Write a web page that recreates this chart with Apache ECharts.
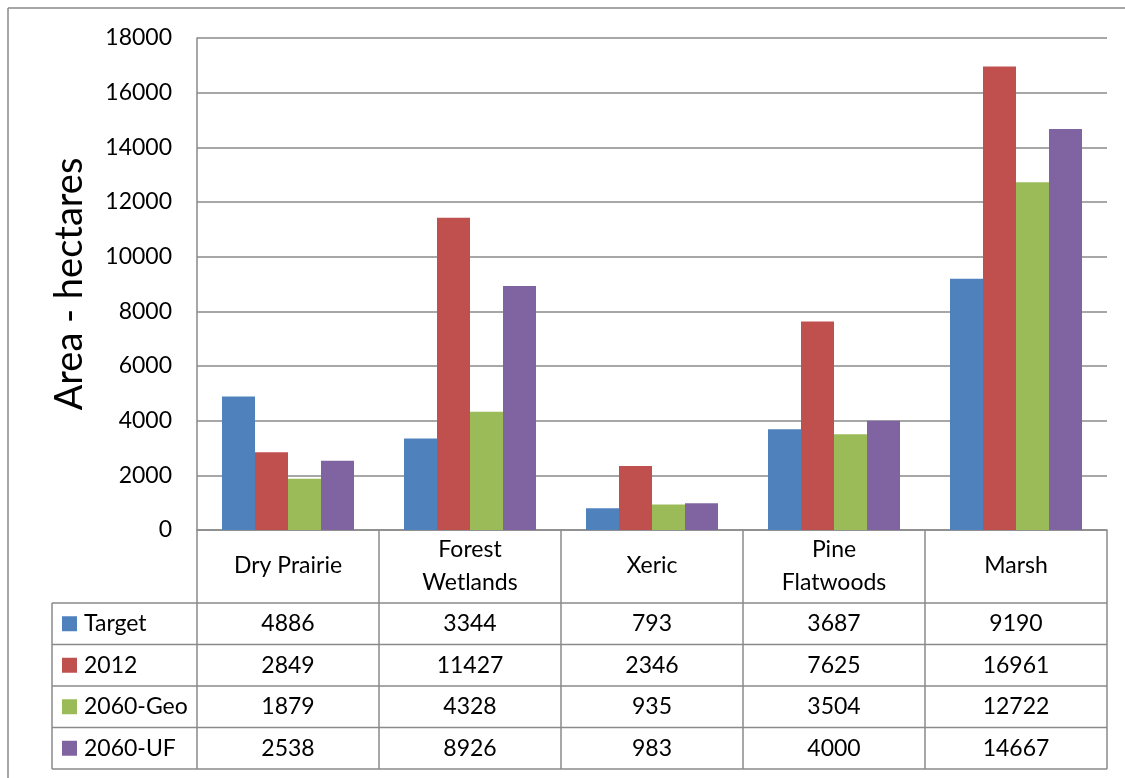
<!DOCTYPE html>
<html>
<head>
<meta charset="utf-8">
<script src="https://cdn.jsdelivr.net/npm/echarts@6/dist/echarts.min.js"></script>
<style>
  html, body { margin: 0; padding: 0; background: #ffffff; }
  #chart { width: 1125px; height: 778px; }
</style>
</head>
<body>
<div id="chart"></div>
<script>
// Land-cover classes and areas (hectares)
const categories = ['Dry Prairie', 'Forest\nWetlands', 'Xeric', 'Pine\nFlatwoods', 'Marsh'];
const seriesNames = ['Target', '2012', '2060-Geo', '2060-UF'];
const target = [4886, 3344, 793, 3687, 9190];
const y2012 = [2849, 11427, 2346, 7625, 16961];
const geo2060 = [1879, 4328, 935, 3504, 12722];
const uf2060 = [2538, 8926, 983, 4000, 14667];
const seriesValues = [target, y2012, geo2060, uf2060];
const colors = ['#4F81BD', '#C0504D', '#9BBB59', '#8064A2'];

const FONT = 'Lato, "Open Sans", sans-serif';
const FS = 23;
const LINE = '#8a8a8a';

const chart = echarts.init(document.getElementById('chart'), null, { renderer: 'canvas' });

const gridLeft = 197, gridRight = 18, gridTop = 38, gridBottom = 248;

chart.setOption({
  animation: false,
  backgroundColor: '#ffffff',
  grid: { left: gridLeft, right: gridRight, top: gridTop, bottom: gridBottom, containLabel: false },
  xAxis: {
    type: 'category',
    data: categories,
    axisTick: { show: false },
    axisLine: { show: true, lineStyle: { color: LINE, width: 1.5 } },
    axisLabel: {
      color: '#000', fontFamily: FONT, fontSize: FS, lineHeight: 33,
      margin: 36, verticalAlign: 'middle', interval: 0
    },
    splitLine: { show: false }
  },
  yAxis: {
    type: 'value',
    min: 0, max: 18000, interval: 2000,
    name: 'Area - hectares',
    nameLocation: 'middle',
    nameGap: 108,
    nameTextStyle: { color: '#000', fontFamily: FONT, fontSize: 38 },
    axisLine: { show: true, lineStyle: { color: LINE, width: 1.5 } },
    axisTick: { show: false },
    axisLabel: {
      color: '#000', fontFamily: FONT, fontSize: FS, margin: 25,
      formatter: v => String(v)
    },
    splitLine: { show: true, lineStyle: { color: LINE, width: 1.5 } }
  },
  series: seriesNames.map((name, i) => ({
    name: name,
    type: 'bar',
    data: seriesValues[i],
    barWidth: 33,
    barGap: '0%',
    itemStyle: { color: colors[i] }
  }))
});

// Data table under the plot, plus the outer chart frame
function buildTable() {
  const els = [];
  const x0 = gridLeft, x1 = 1125 - gridRight;
  const axisY = 778 - gridBottom;
  const headerBottom = 603;
  const rowH = 41.5;
  const rowTops = [0, 1, 2, 3, 4].map(k => headerBottom + k * rowH);
  const tableLeft = 52;
  const n = categories.length;
  const colW = (x1 - x0) / n;
  const line = (xa, ya, xb, yb) => ({
    type: 'line', silent: true,
    shape: { x1: xa, y1: ya, x2: xb, y2: yb },
    style: { stroke: LINE, lineWidth: 1.5 }
  });

  // outer frame
  els.push(line(8, 8, 1125, 8));
  els.push(line(8, 8, 8, 778));

  // vertical lines of the category columns
  for (let k = 0; k <= n; k++) {
    const x = x0 + k * colW;
    els.push(line(x, axisY, x, rowTops[4]));
  }
  // left label column
  els.push(line(tableLeft, headerBottom, tableLeft, rowTops[4]));
  // horizontal row lines
  rowTops.forEach(y => els.push(line(tableLeft, y, x1, y)));

  // series rows: legend key, name, values
  seriesNames.forEach((name, r) => {
    const cy = rowTops[r] + rowH / 2;
    els.push({
      type: 'rect', silent: true,
      shape: { x: 62, y: cy - 7.5, width: 15, height: 15 },
      style: { fill: colors[r] }
    });
    els.push({
      type: 'text', silent: true,
      style: {
        x: 84, y: cy, text: name, fill: '#000',
        font: FS + 'px ' + FONT, textAlign: 'left', textVerticalAlign: 'middle'
      }
    });
    seriesValues[r].forEach((v, c) => {
      const cx = chart.convertToPixel({ xAxisIndex: 0 }, c);
      els.push({
        type: 'text', silent: true,
        style: {
          x: cx, y: cy, text: String(v), fill: '#000',
          font: FS + 'px ' + FONT, textAlign: 'center', textVerticalAlign: 'middle'
        }
      });
    });
  });
  return els;
}

chart.setOption({ graphic: buildTable() });
</script>
</body>
</html>
